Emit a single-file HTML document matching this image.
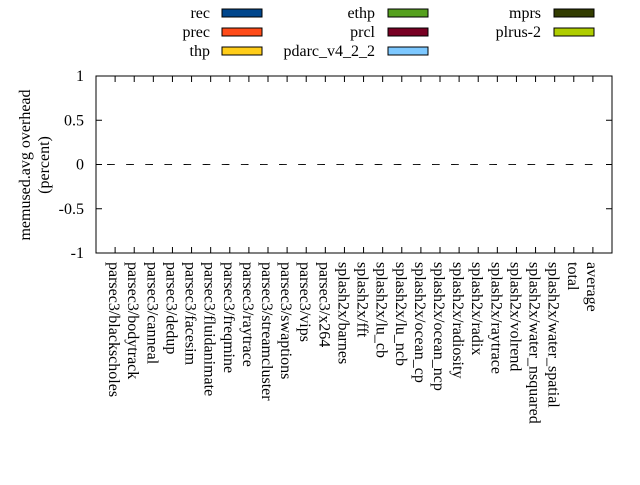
<!DOCTYPE html>
<html><head><meta charset="utf-8"><style>
body{margin:0;background:#fff;}
svg text{font-family:"Liberation Serif",serif;font-size:16px;fill:#000;}
</style></head><body>
<svg width="640" height="480" id="c">
<rect x="0" y="0" width="640" height="480" fill="#fff"/>
<g id="legend"></g>
<g id="axes"></g>
<g id="bars"></g>
<g id="labels"></g>
<text transform="translate(30,165) rotate(-90)" text-anchor="middle">memused.avg overhead</text>
<text transform="translate(49,165) rotate(-90)" text-anchor="middle">(percent)</text>
</svg>
<script>
const categories=["parsec3/blackscholes","parsec3/bodytrack","parsec3/canneal","parsec3/dedup","parsec3/facesim","parsec3/fluidanimate","parsec3/freqmine","parsec3/raytrace","parsec3/streamcluster","parsec3/swaptions","parsec3/vips","parsec3/x264","splash2x/barnes","splash2x/fft","splash2x/lu_cb","splash2x/lu_ncb","splash2x/ocean_cp","splash2x/ocean_ncp","splash2x/radiosity","splash2x/radix","splash2x/raytrace","splash2x/volrend","splash2x/water_nsquared","splash2x/water_spatial","total","average"];
const seriesNames=["rec","prec","thp","ethp","prcl","pdarc_v4_2_2","mprs","plrus-2"];
const seriesColors=["#00468c","#ff4b19","#ffcd19","#55a01e","#780023","#7dc8ff","#323c00","#afcd00"];
const rec=new Array(26).fill(0);
const prec=new Array(26).fill(0);
const thp=new Array(26).fill(0);
const ethp=new Array(26).fill(0);
const prcl=new Array(26).fill(0);
const pdarc=new Array(26).fill(0);
const mprs=new Array(26).fill(0);
const plrus=new Array(26).fill(0);
const yTicks=[1,0.5,0,-0.5,-1];
const yTickLabels=["1","0.5","0","-0.5","-1"];
const series=[rec,prec,thp,ethp,prcl,pdarc,mprs,plrus];
const NS="http://www.w3.org/2000/svg";
const L=96,R=612,T=76,B=253,yMin=-1,yMax=1;
const xs=i=>L+(R-L)*(i+1)/(categories.length+1);
const ys=v=>B-(v-yMin)/(yMax-yMin)*(B-T);
function mk(tag,attrs,parent){const e=document.createElementNS(NS,tag);for(const k in attrs)e.setAttribute(k,attrs[k]);parent.appendChild(e);return e;}
const ax=document.getElementById('axes');
const f=mk('rect',{x:L,y:T,width:R-L,height:B-T,fill:'none',stroke:'#000','stroke-width':1},ax);


yTicks.forEach((v,i)=>{const y=ys(v);
 mk('line',{x1:L,x2:L+6,y1:y,y2:y,stroke:'#000'},ax);
 mk('line',{x1:R,x2:R-6,y1:y,y2:y,stroke:'#000'},ax);
 const t=mk('text',{x:84,y:y+5,'text-anchor':'end'},ax);t.textContent=yTickLabels[i];
 
 
});
const lb=document.getElementById('labels');
categories.forEach((c,i)=>{const x=xs(i);
 mk('line',{x1:x,x2:x,y1:B,y2:B-6,stroke:'#000'},ax);
 mk('line',{x1:x,x2:x,y1:T,y2:T+6,stroke:'#000'},ax);
 const t=mk('text',{transform:`translate(${x-6},262) rotate(90)`},lb);t.textContent=c;
 
 
});
const bg=document.getElementById('bars');
series.forEach((s,k)=>{s.forEach((v,i)=>{
 const x=xs(i)-8+k*0.95;const y0=ys(0),y1=ys(v);
 const p=mk('path',{d:`M${x},${y0}V${y1}H${x+0.95}V${y0}Z`,fill:seriesColors[k],stroke:'#000','stroke-width':1},bg);
 
 
});});
const lg=document.getElementById('legend');
const tx=[210,375,541],bx=[222,388,554];
seriesNames.forEach((n,k)=>{const c=Math.floor(k/3),r=k%3;const y=13+r*19;
 const t=mk('text',{x:tx[c],y:y+5,'text-anchor':'end'},lg);t.textContent=n;
 
 
 const b=mk('rect',{x:bx[c],y:y-4,width:40,height:8,fill:seriesColors[k],stroke:'#000','stroke-width':1},lg);
 
 
});
</script>
</body></html>
